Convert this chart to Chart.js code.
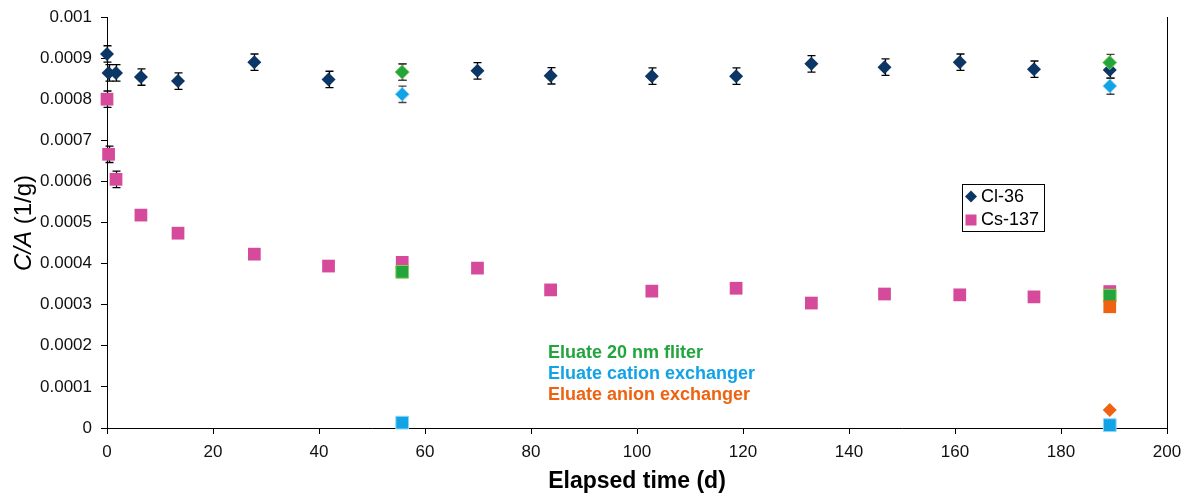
<!DOCTYPE html>
<html>
<head>
<meta charset="utf-8">
<script src="https://cdn.jsdelivr.net/npm/chart.js@4.4.1/dist/chart.umd.min.js"></script>
<style>
  html, body { margin: 0; padding: 0; background: #fff; }
  #wrap { width: 1191px; height: 495px; position: relative; }
</style>
</head>
<body>
<div id="wrap"><canvas id="c" width="1191" height="495"></canvas></div>
<script>
// ---- data ----
const times = [0, 0.3, 1.7, 6.4, 13.4, 27.8, 41.8, 55.7, 69.9, 83.7, 102.8, 118.7, 132.9, 146.7, 160.9, 174.9, 189.2];
const cl36 = [0.00091, 0.000864, 0.000864, 0.000854, 0.000844, 0.00089, 0.000848, 0.000866, 0.000869, 0.000857, 0.000856, 0.000856, 0.000886, 0.000878, 0.00089, 0.000873, 0.000871];
const cl36Err = [0.00002, 0.00002, 0.00002, 0.00002, 0.00002, 0.00002, 0.00002, 0.00002, 0.00002, 0.00002, 0.00002, 0.00002, 0.00002, 0.00002, 0.00002, 0.00002, 0.00002];
const cs137 = [0.0008, 0.000666, 0.000605, 0.000518, 0.000474, 0.000423, 0.000394, 0.000403, 0.000389, 0.000336, 0.000333, 0.00034, 0.000304, 0.000326, 0.000324, 0.000319, 0.000332];
const cs137Err = [0.00002, 0.00002, 0.00002, 0.00001, 0.00001, 0.00001, 0.00001, 0.00001, 0.00001, 0.00001, 0.00001, 0.00001, 0.00001, 0.00001, 0.00001, 0.00001, 0.00001];

const eluateTimes = [55.7, 189.2];
const filterCl = [0.000866, 0.000889];
const filterCs = [0.00038, 0.000322];
const cationCl = [0.000812, 0.000832];
const cationCs = [0.000013, 0.000007];
const eluateErr = [0.00002, 0.00002];
const anionTimes = [189.2];
const anionCl = [0.000044];
const anionCs = [0.000295];

const yTickLabels = ['0', '0.0001', '0.0002', '0.0003', '0.0004', '0.0005', '0.0006', '0.0007', '0.0008', '0.0009', '0.001'];
const xTickLabels = ['0', '20', '40', '60', '80', '100', '120', '140', '160', '180', '200'];

const legendItems = ['Cl-36', 'Cs-137'];
const notes = ['Eluate 20 nm fliter', 'Eluate cation exchanger', 'Eluate anion exchanger'];

// ---- colours ----
const NAVY = '#0c3665', PINK = '#d54a9b', GREEN = '#22a53c', GREEN_B = '#8ccf5a',
      BLUE = '#12a3e6', BLUE_B = '#8dd6f7', ORANGE = '#ee6210';

const pts = (xs, ys, es) => xs.map((x, i) => ({ x: x, y: ys[i], e: es ? es[i] : 0 }));

const FONT = '"Liberation Sans", Arial, sans-serif';

const datasets = [
  { label: 'Cs-137', data: pts(times, cs137, cs137Err), pointStyle: 'rect', pointRadius: 9, backgroundColor: PINK, borderColor: PINK, borderWidth: 0, order: 6, errColor: '#000' },
  { label: 'Cl-36', data: pts(times, cl36, cl36Err), pointStyle: 'rectRot', pointRadius: 7, backgroundColor: NAVY, borderColor: NAVY, borderWidth: 0, order: 5, errColor: '#000' },
  { label: 'cationCl', data: pts(eluateTimes, cationCl, eluateErr), pointStyle: 'rectRot', pointRadius: 7, backgroundColor: BLUE, borderColor: BLUE_B, borderWidth: 1, order: 4, errColor: '#444' },
  { label: 'filterCl', data: pts(eluateTimes, filterCl, eluateErr), pointStyle: 'rectRot', pointRadius: 7, backgroundColor: GREEN, borderColor: GREEN_B, borderWidth: 1, order: 3, errColor: '#444' },
  { label: 'filterCs', data: pts(eluateTimes, filterCs), pointStyle: 'rect', pointRadius: 9, backgroundColor: GREEN, borderColor: GREEN_B, borderWidth: 1, order: 3 },
  { label: 'cationCs', data: pts(eluateTimes, cationCs), pointStyle: 'rect', pointRadius: 9, backgroundColor: BLUE, borderColor: BLUE_B, borderWidth: 1, order: 4 },
  { label: 'anionCl', data: pts(anionTimes, anionCl), pointStyle: 'rectRot', pointRadius: 7, backgroundColor: ORANGE, borderColor: ORANGE, borderWidth: 0, order: 1 },
  { label: 'anionCs', data: pts(anionTimes, anionCs), pointStyle: 'rect', pointRadius: 9, backgroundColor: ORANGE, borderColor: ORANGE, borderWidth: 0, order: 1 }
];
datasets.forEach(d => { d.showLine = false; d.pointHoverRadius = d.pointRadius; d.clip = false; });

const extras = {
  id: 'extras',
  beforeDatasetsDraw(chart) {
    const ctx = chart.ctx, xs = chart.scales.x, ys = chart.scales.y;
    ctx.save();
    chart.data.datasets.forEach(ds => {
      ds.data.forEach(p => {
        if (!p.e) return;
        const px = Math.round(xs.getPixelForValue(p.x)) + 0.5;
        const top = ys.getPixelForValue(p.y + p.e), bot = ys.getPixelForValue(p.y - p.e);
        ctx.strokeStyle = ds.errColor || '#000';
        ctx.lineWidth = 1.3;
        ctx.beginPath();
        ctx.moveTo(px, top); ctx.lineTo(px, bot);
        ctx.moveTo(px - 4, top); ctx.lineTo(px + 4, top);
        ctx.moveTo(px - 4, bot); ctx.lineTo(px + 4, bot);
        ctx.stroke();
      });
    });
    ctx.restore();
  },
  afterDraw(chart) {
    const ctx = chart.ctx, a = chart.chartArea;
    ctx.save();
    // plot frame (right side)
    ctx.strokeStyle = '#000'; ctx.lineWidth = 1;
    ctx.beginPath();
    ctx.moveTo(Math.round(a.right) + 0.5, a.top);
    ctx.lineTo(Math.round(a.right) + 0.5, a.bottom);
    ctx.stroke();

    // y axis title with italic C/A
    ctx.translate(31, 223);
    ctx.rotate(-Math.PI / 2);
    ctx.fillStyle = '#000';
    ctx.textBaseline = 'alphabetic';
    const f1 = 'italic 24px ' + FONT, f2 = '24px ' + FONT;
    ctx.font = f1; const w1 = ctx.measureText('C/A').width;
    ctx.font = f2; const w2 = ctx.measureText(' (1/g)').width;
    const start = -(w1 + w2) / 2;
    ctx.font = f1; ctx.textAlign = 'left'; ctx.fillText('C/A', start, 0);
    ctx.font = f2; ctx.fillText(' (1/g)', start + w1, 0);
    ctx.setTransform(1, 0, 0, 1, 0, 0);

    // legend box
    ctx.strokeStyle = '#000'; ctx.lineWidth = 1;
    ctx.strokeRect(962.5, 184.5, 82, 47);
    ctx.font = '18px ' + FONT; ctx.textBaseline = 'middle'; ctx.textAlign = 'left';
    ctx.fillStyle = NAVY;
    ctx.beginPath();
    ctx.moveTo(971, 190.5); ctx.lineTo(977, 196.5); ctx.lineTo(971, 202.5); ctx.lineTo(965, 196.5); ctx.closePath();
    ctx.fill();
    ctx.fillStyle = PINK;
    ctx.fillRect(965.5, 214.5, 11, 11);
    ctx.fillStyle = '#000';
    ctx.fillText(legendItems[0], 981, 197);
    ctx.fillText(legendItems[1], 981, 220.5);

    // eluate annotations
    ctx.font = 'bold 18px ' + FONT;
    ctx.fillStyle = GREEN; ctx.fillText(notes[0], 548, 353);
    ctx.fillStyle = BLUE; ctx.fillText(notes[1], 548, 374);
    ctx.fillStyle = ORANGE; ctx.fillText(notes[2], 548, 395);
    ctx.restore();
  }
};

new Chart(document.getElementById('c'), {
  type: 'scatter',
  data: { datasets: datasets },
  options: {
    responsive: false,
    animation: false,
    events: [],
    layout: { padding: { left: 0, right: 24, top: 17, bottom: 0 } },
    plugins: { legend: { display: false }, tooltip: { enabled: false } },
    scales: {
      x: {
        type: 'linear', min: 0, max: 200,
        afterFit(s) { s.height = 67; s.paddingLeft = 0; s.paddingRight = 0; },
        border: { display: true, color: '#000', width: 1 },
        grid: { drawOnChartArea: false, drawTicks: true, tickLength: 6, color: '#000' },
        ticks: {
          stepSize: 20, color: '#111', padding: 8,
          font: { family: FONT, size: 17 },
          callback: (v, i) => xTickLabels[i]
        },
        title: { display: true, text: 'Elapsed time (d)', color: '#000', font: { family: FONT, size: 23, weight: 'bold' }, padding: { top: 4, bottom: 0 } }
      },
      y: {
        type: 'linear', min: 0, max: 0.001,
        afterFit(s) { s.width = 107; s.paddingTop = 0; s.paddingBottom = 0; },
        border: { display: true, color: '#000', width: 1 },
        grid: { drawOnChartArea: false, drawTicks: true, tickLength: 6, color: '#000' },
        ticks: {
          stepSize: 0.0001, color: '#111', padding: 9,
          font: { family: FONT, size: 17 },
          callback: (v, i) => yTickLabels[i]
        }
      }
    }
  },
  plugins: [extras]
});
</script>
</body>
</html>
